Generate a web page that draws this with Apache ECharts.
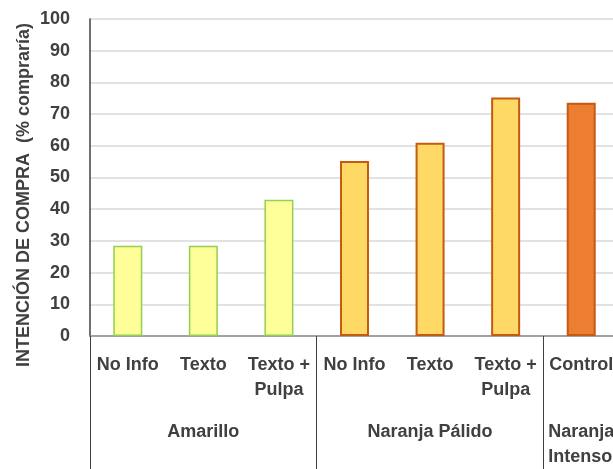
<!DOCTYPE html>
<html>
<head>
<meta charset="utf-8">
<script src="https://cdn.jsdelivr.net/npm/echarts@6/dist/echarts.min.js"></script>
<style>
html,body{margin:0;padding:0;background:#fff;}
#chart{width:613px;height:469px;}
</style>
</head>
<body>
<div id="chart"></div>
<script>
const categories = ['No Info', 'Texto', 'Texto +\nPulpa', 'No Info', 'Texto', 'Texto +\nPulpa', 'Control'];
const groupOfBar = [0, 0, 0, 1, 1, 1, 2];
const groupLabels = ['', 'Amarillo', '', '', 'Naranja Pálido', '', 'Naranja\nIntenso'];
const groupBoundaries = [0, 3, 6];
const values = [28.5, 28.5, 43, 55.2, 61, 75.2, 73.6];
const yTicks = [0, 10, 20, 30, 40, 50, 60, 70, 80, 90, 100];
const yTitle = 'INTENCIÓN DE COMPRA  (% compraría)';

const fills = ['#FFFF99', '#FFD966', '#ED7D31'];
const borders = ['#92D050', '#C55A11', '#C55A11'];
const FONT = "'Liberation Sans', Arial, sans-serif";
const TXT = '#404040';

const chart = echarts.init(document.getElementById('chart'));
chart.setOption({
  animation: false,
  grid: { left: 90, top: 19, width: 529, height: 317, outerBoundsMode: 'none', containLabel: false },
  graphic: [{
    type: 'text', x: 24, y: 195, rotation: Math.PI / 2,
    style: { text: yTitle, font: 'bold 18px ' + FONT, fill: TXT, align: 'center', verticalAlign: 'middle' }
  }],
  xAxis: [{
    type: 'category', data: categories,
    axisLine: { lineStyle: { color: '#8C8C8C', width: 1.5 } },
    axisTick: { show: false },
    axisLabel: { interval: 0, margin: 17, color: TXT, fontFamily: FONT, fontWeight: 'bold', fontSize: 18, lineHeight: 25 }
  }, {
    type: 'category', data: groupLabels, position: 'bottom',
    axisLine: { show: false },
    axisTick: { show: true, length: 135, lineStyle: { color: '#404040', width: 1 },
      interval: function (i) { return groupBoundaries.indexOf(i) >= 0; } },
    axisLabel: { interval: 0, margin: 84, color: TXT, fontFamily: FONT, fontWeight: 'bold', fontSize: 18, lineHeight: 25,
      formatter: function (v, i) { return i === 6 ? '{l|' + v.split('\n').join('}\n{l|') + '}' : v; },
      rich: { l: { align: 'left', color: TXT, fontFamily: FONT, fontWeight: 'bold', fontSize: 18, lineHeight: 25 } } }
  }],
  yAxis: {
    type: 'value', min: 0, max: 100, interval: 10,
    axisLine: { show: true, lineStyle: { color: '#404040', width: 1.5 } },
    axisTick: { show: false },
    splitLine: { lineStyle: { color: '#D9D9D9', width: 1.5 } },
    axisLabel: { margin: 20, color: TXT, fontFamily: FONT, fontWeight: 'bold', fontSize: 18,
      formatter: function (v) { return yTicks.indexOf(v) >= 0 ? String(v) : ''; } }
  },
  series: [{
    type: 'bar', barWidth: 29, xAxisIndex: 0,
    data: values.map(function (v, i) {
      const g = groupOfBar[i];
      return { value: v, itemStyle: { color: fills[g], borderColor: borders[g], borderWidth: g === 0 ? 1.5 : 2 } };
    })
  }]
});
</script>
</body>
</html>
